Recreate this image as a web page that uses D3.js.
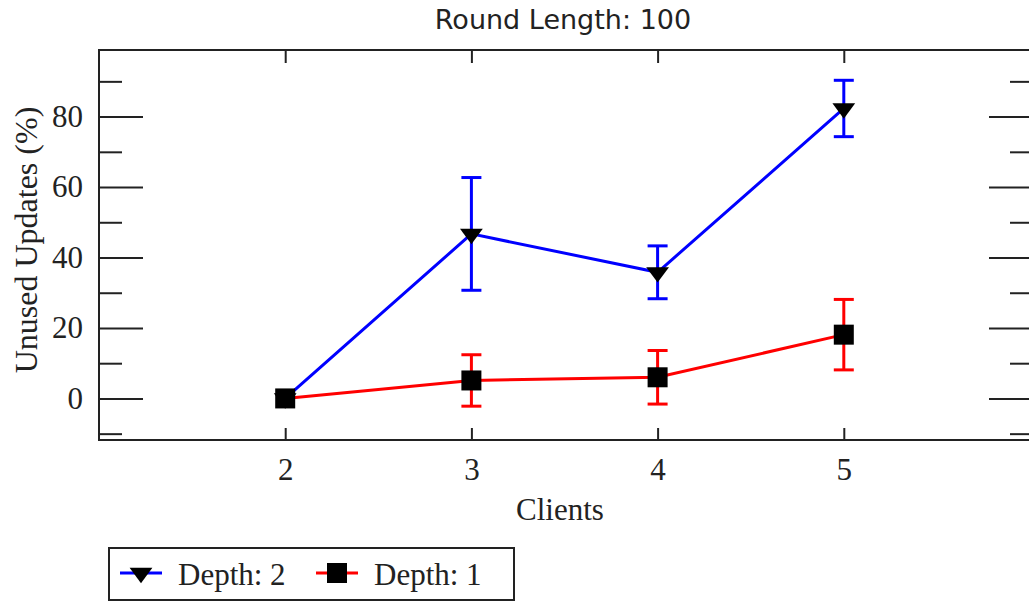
<!DOCTYPE html>
<html>
<head>
<meta charset="utf-8">
<script src="https://cdn.jsdelivr.net/npm/d3@7"></script>
<style>
  body { margin: 0; background: #fff; }
  svg { display: block; }
  .axis path { display: none; }
  .axis line { stroke: #222; stroke-width: 2; }
  .axis text { font-family: "Liberation Serif", "Times New Roman", serif; font-size: 31px; fill: #222; }
</style>
</head>
<body>
<svg id="svg"></svg>
<script>
////////////////////////////////////////////////////////////////////////
// Data

let clients = [2, 3, 4, 5];
let depth2Mean = [0, 46.7, 35.8, 82.3];
let depth2Err = [0, 16, 7.5, 8];
let depth1Mean = [0, 5.1, 6.0, 18.1];
let depth1Err = [0, 7.3, 7.6, 10];
let yMajorTicks = [0, 20, 40, 60, 80];
let yMinorTicks = [-10, 10, 30, 50, 70, 90];
let seriesNames = ["Depth: 2", "Depth: 1"];

////////////////////////////////////////////////////////////////////////
// Layout

let width = 1029, height = 601;
let plotLeft = 99, plotRight = 1030, plotTop = 50, plotBottom = 440;

let svg = d3.select("#svg").attr("width", width).attr("height", height);

let x = d3.scaleLinear().domain([1, 6]).range([plotLeft, plotRight]);
let y = d3.scaleLinear().domain([-11.8, 98.9]).range([plotBottom, plotTop]);

// frame
svg.append("rect")
   .attr("x", plotLeft).attr("y", plotTop)
   .attr("width", plotRight - plotLeft).attr("height", plotBottom - plotTop)
   .attr("fill", "none").attr("stroke", "#222").attr("stroke-width", 2);

// left axis, ticks drawn inward
svg.append("g").attr("class", "axis")
   .attr("transform", "translate(" + plotLeft + ",0)")
   .call(d3.axisLeft(y).tickValues(yMajorTicks).tickSize(-44).tickPadding(16));
svg.append("g").attr("class", "axis")
   .attr("transform", "translate(" + plotLeft + ",0)")
   .call(d3.axisLeft(y).tickValues(yMinorTicks).tickSize(-23).tickFormat(""));

// right axis, no labels
svg.append("g").attr("class", "axis")
   .attr("transform", "translate(" + plotRight + ",0)")
   .call(d3.axisRight(y).tickValues(yMajorTicks).tickSize(-41).tickFormat(""));
svg.append("g").attr("class", "axis")
   .attr("transform", "translate(" + plotRight + ",0)")
   .call(d3.axisRight(y).tickValues(yMinorTicks).tickSize(-20).tickFormat(""));

// bottom and top axes
svg.append("g").attr("class", "axis")
   .attr("transform", "translate(0," + plotBottom + ")")
   .call(d3.axisBottom(x).tickValues(clients).tickSize(-12).tickPadding(18).tickFormat(d3.format("d")));
svg.append("g").attr("class", "axis")
   .attr("transform", "translate(0," + plotTop + ")")
   .call(d3.axisTop(x).tickValues(clients).tickSize(-13).tickFormat(""));

// titles
svg.append("text")
   .attr("x", 563).attr("y", 29)
   .attr("text-anchor", "middle")
   .style("font-family", "'DejaVu Sans', sans-serif")
   .style("font-size", "27px").style("fill", "#222")
   .text("Round Length: 100");

svg.append("text")
   .attr("x", 560).attr("y", 520)
   .attr("text-anchor", "middle")
   .style("font-family", "'Liberation Serif', serif")
   .style("font-size", "31px").style("fill", "#222")
   .text("Clients");

svg.append("text")
   .attr("transform", "translate(37,240) rotate(-90)")
   .attr("text-anchor", "middle")
   .style("font-family", "'Liberation Serif', serif")
   .style("font-size", "32px").style("fill", "#222")
   .text("Unused Updates (%)");

////////////////////////////////////////////////////////////////////////
// Series

let triangle = d3.symbol().type(d3.symbolTriangle).size(170);

function drawSeries(means, errs, color, marker) {
  let pts = clients.map((c, i) => ({ x: c, m: means[i], e: errs[i] }));
  let g = svg.append("g");

  g.append("path")
   .datum(pts)
   .attr("fill", "none").attr("stroke", color).attr("stroke-width", 3)
   .attr("d", d3.line().x(d => x(d.x)).y(d => y(d.m)));

  let eb = g.selectAll(".eb").data(pts.filter(d => d.e > 0)).enter().append("g")
            .attr("stroke", color).attr("stroke-width", 3);
  eb.append("line")
    .attr("x1", d => x(d.x)).attr("x2", d => x(d.x))
    .attr("y1", d => y(d.m - d.e)).attr("y2", d => y(d.m + d.e));
  eb.append("line")
    .attr("x1", d => x(d.x) - 10).attr("x2", d => x(d.x) + 10)
    .attr("y1", d => y(d.m + d.e)).attr("y2", d => y(d.m + d.e));
  eb.append("line")
    .attr("x1", d => x(d.x) - 10).attr("x2", d => x(d.x) + 10)
    .attr("y1", d => y(d.m - d.e)).attr("y2", d => y(d.m - d.e));

  g.selectAll(".mk").data(pts).enter().append("g")
   .attr("transform", d => "translate(" + x(d.x) + "," + y(d.m) + ")")
   .call(marker);
}

function drawTriangle(sel) {
  sel.append("path").attr("d", triangle).attr("transform", "rotate(180) scale(1.15,0.9)").attr("fill", "#000");
}
function drawSquare(sel) {
  sel.append("rect").attr("x", -10).attr("y", -10).attr("width", 20).attr("height", 20).attr("fill", "#000");
}

drawSeries(depth2Mean, depth2Err, "#0000ff", drawTriangle);
drawSeries(depth1Mean, depth1Err, "#ff0000", drawSquare);

////////////////////////////////////////////////////////////////////////
// Legend

let lg = svg.append("g");
lg.append("rect")
  .attr("x", 109).attr("y", 548).attr("width", 405).attr("height", 52)
  .attr("fill", "#fff").attr("stroke", "#222").attr("stroke-width", 2);

let legendItems = [
  { name: seriesNames[0], color: "#0000ff", x0: 120, marker: drawTriangle },
  { name: seriesNames[1], color: "#ff0000", x0: 316, marker: drawSquare }
];
legendItems.forEach(function(it) {
  lg.append("line")
    .attr("x1", it.x0).attr("x2", it.x0 + 42).attr("y1", 573).attr("y2", 573)
    .attr("stroke", it.color).attr("stroke-width", 3);
  lg.append("g").attr("transform", "translate(" + (it.x0 + 21) + ",573)").call(it.marker);
  lg.append("text")
    .attr("x", it.x0 + 58).attr("y", 585)
    .style("font-family", "'Liberation Serif', serif")
    .style("font-size", "31px").style("fill", "#222")
    .text(it.name);
});
</script>
</body>
</html>
